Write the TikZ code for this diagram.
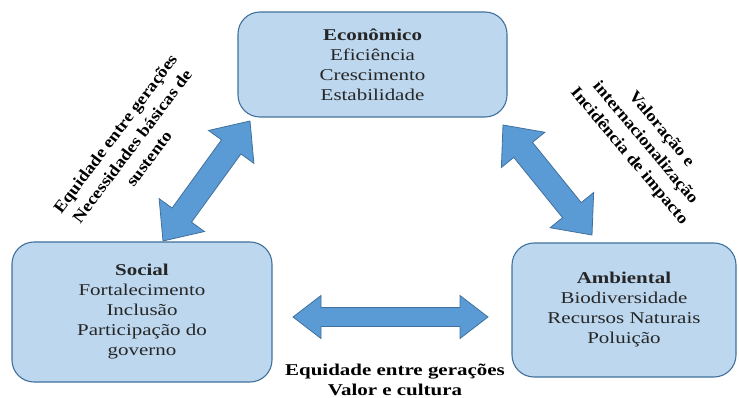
\documentclass[tikz,border=0pt]{standalone}
\usepackage{fontspec}
\setmainfont{Liberation Serif}[FakeStretch=1.27]
\newfontfamily\rotfont{Liberation Serif}[FakeStretch=1.12]
\usetikzlibrary{calc}
\definecolor{boxblue}{HTML}{BDD7EE}
\definecolor{boxedge}{HTML}{41719C}
\definecolor{arrowblue}{HTML}{5B9BD5}
\definecolor{txt}{HTML}{262626}
\tikzset{
  pillar/.style={draw=boxedge, fill=boxblue, line width=1.1pt, rounded corners=22pt,
    align=center, inner sep=0pt, outer sep=0pt, text=txt,
    font=\fontsize{16.5}{20}\selectfont},
  arrowsty/.style={draw=boxedge, fill=arrowblue, line width=0.8pt, line join=miter},
  lbl/.style={align=center, text=black, font=\fontsize{16.5}{20}\selectfont\bfseries},
  rotlbl/.style={align=center, text=black, font=\rotfont\fontsize{16.5}{21}\selectfont\bfseries}
}
\newcommand\blockarrow[5]{%
  \coordinate (#1h) at ($(#1)!#3!(#2)$);
  \coordinate (#2h) at ($(#2)!#3!(#1)$);
  \filldraw[arrowsty] (#1) -- ($(#1h)!#4!90:(#2)$) -- ($(#1h)!#5!90:(#2)$)
    -- ($(#2h)!#5!-90:(#1)$) -- ($(#2h)!#4!-90:(#1)$) -- (#2)
    -- ($(#2h)!#4!90:(#1)$) -- ($(#2h)!#5!90:(#1)$)
    -- ($(#1h)!#5!-90:(#2)$) -- ($(#1h)!#4!-90:(#2)$) -- cycle;
}
\begin{document}
\begin{tikzpicture}[x=1pt,y=-1pt]
\useasboundingbox (0,0) rectangle (739,398);
\node[pillar, minimum width=269pt, minimum height=105pt] (eco) at (372.5,64.5)
  {\textbf{Econômico}\\Eficiência\\Crescimento\\Estabilidade};
\node[pillar, minimum width=260pt, minimum height=140pt] (soc) at (142,312)
  {\textbf{Social}\\Fortalecimento\\Inclusão\\Participação do\\governo};
\node[pillar, minimum width=224pt, minimum height=134pt] (amb) at (624,310)
  {\textbf{Ambiental}\\Biodiversidade\\Recursos Naturais\\Poluição};
% arrow end points
\coordinate (ls) at (163,241);
\coordinate (le) at (250,121);
\coordinate (rs) at (503,125);
\coordinate (re) at (592,235);
\coordinate (hs) at (293,317);
\coordinate (he) at (488,317);
\blockarrow{ls}{le}{32pt}{28pt}{12pt}
\blockarrow{rs}{re}{32pt}{28pt}{12pt}
\blockarrow{hs}{he}{28pt}{21.5pt}{9.5pt}
% labels
\node[rotlbl, rotate=53] (l1) at (132,146)
  {Equidade entre gerações\\Necessidades básicas de\\sustento};
\node[rotlbl, rotate=-50] (l2) at (645,143)
  {Valoração e\\internacionalização\\Incidência de impacto};
\node[lbl] (l3) at (395,380) {Equidade entre gerações\\Valor e cultura};
\end{tikzpicture}
\end{document}
